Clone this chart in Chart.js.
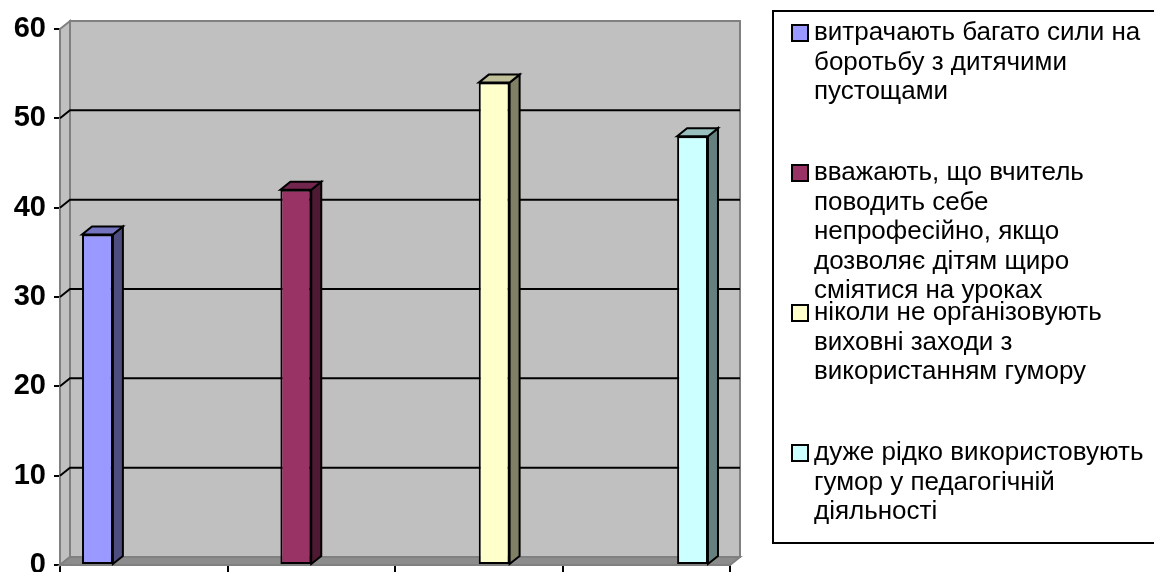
<!DOCTYPE html>
<html>
<head>
<meta charset="utf-8">
<script src="https://cdn.jsdelivr.net/npm/chart.js@4/dist/chart.umd.min.js"></script>
<style>
    body { margin: 0; background: #fff; }
    #wrap { width: 1154px; height: 572px; position: relative; }
</style>
</head>
<body>
<div id="wrap"><canvas id="chart"></canvas></div>
<script>
const categories = ['1', '2', '3', '4'];
const values = [37, 42, 54, 48];
const seriesNames = [
    ['витрачають багато сили на', 'боротьбу з дитячими', 'пустощами'],
    ['вважають, що вчитель', 'поводить себе', 'непрофесійно, якщо', 'дозволяє дітям щиро', 'сміятися на уроках'],
    ['ніколи не організовують', 'виховні заходи з', 'використанням гумору'],
    ['дуже рідко використовують', 'гумор у педагогічній', 'діяльності'],
];
const yTicks = [0, 10, 20, 30, 40, 50, 60];

const fronts = ['#9999FF', '#993366', '#FFFFCC', '#CCFFFF'];
const sides = ['#4D4D80', '#4D1933', '#808066', '#668080'];
const tops = ['#7373BF', '#73264D', '#BFBF99', '#99BFBF'];

const FONT = '"Liberation Sans", Arial, sans-serif';
const DX = 10, DY = -8;

function poly(ctx, pts, fill, stroke, lw) {
    ctx.beginPath();
    ctx.moveTo(pts[0][0], pts[0][1]);
    for (let i = 1; i < pts.length; i++) ctx.lineTo(pts[i][0], pts[i][1]);
    ctx.closePath();
    if (fill) { ctx.fillStyle = fill; ctx.fill(); }
    if (stroke) { ctx.strokeStyle = stroke; ctx.lineWidth = lw || 2; ctx.stroke(); }
}

// walls, floor and gridlines of the 3D box
const walls = {
    id: 'walls',
    beforeDatasetsDraw(chart) {
        const { ctx, chartArea: a } = chart;
        const y = chart.scales.y;
        ctx.save();
        poly(ctx, [[a.left + DX, a.top + DY], [a.right + DX, a.top + DY], [a.right + DX, a.bottom + DY], [a.left + DX, a.bottom + DY]], '#C0C0C0', '#808080', 2);
        poly(ctx, [[a.left, a.top], [a.left + DX, a.top + DY], [a.left + DX, a.bottom + DY], [a.left, a.bottom]], '#C0C0C0', '#808080', 2);
        poly(ctx, [[a.left, a.bottom], [a.right, a.bottom], [a.right + DX, a.bottom + DY], [a.left + DX, a.bottom + DY]], '#8C8C8C', '#808080', 2);
        ctx.strokeStyle = '#000';
        ctx.lineWidth = 2;
        yTicks.slice(1, -1).forEach(v => {
            const py = y.getPixelForValue(v);
            ctx.beginPath();
            ctx.moveTo(a.left, py);
            ctx.lineTo(a.left + DX, py + DY);
            ctx.lineTo(a.right + DX, py + DY);
            ctx.stroke();
        });
        ctx.restore();
    },
    afterDatasetsDraw(chart) {
        const { ctx } = chart;
        ctx.save();
        chart.data.datasets.forEach((ds, i) => {
            chart.getDatasetMeta(i).data.forEach((bar, j) => {
                if (ds.data[j] == null) return;
                const p = bar.getProps(['x', 'y', 'base', 'width'], true);
                const l = p.x - p.width / 2, r = p.x + p.width / 2;
                poly(ctx, [[r, p.y], [r + DX, p.y + DY], [r + DX, p.base + DY], [r, p.base]], sides[i], '#000', 2);
                poly(ctx, [[l, p.y], [l + DX, p.y + DY], [r + DX, p.y + DY], [r, p.y]], tops[i], '#000', 2);
            });
        });
        ctx.restore();
    },
};

// boxed legend on the right
const boxLegend = {
    id: 'boxLegend',
    afterDraw(chart) {
        const { ctx } = chart;
        ctx.save();
        ctx.strokeStyle = '#000';
        ctx.lineWidth = 2;
        ctx.strokeRect(773, 11, 420, 532);
        ctx.font = '26px ' + FONT;
        ctx.textBaseline = 'middle';
        chart.data.datasets.forEach((ds, i) => {
            const y0 = 33 + 140 * i;
            ctx.fillStyle = fronts[i];
            ctx.fillRect(792, y0 - 8, 16, 16);
            ctx.strokeRect(792, y0 - 8, 16, 16);
            ctx.fillStyle = '#000';
            seriesNames[i].forEach((line, k) => ctx.fillText(line, 814, y0 + k * 29.5));
        });
        ctx.restore();
    },
};

new Chart(document.getElementById('chart'), {
    type: 'bar',
    data: {
        labels: categories,
        datasets: values.map((v, i) => ({
            label: seriesNames[i].join(' '),
            data: values.map((_, j) => (j === i ? v : null)),
            backgroundColor: fronts[i],
            borderColor: '#000',
            borderWidth: 2,
            borderSkipped: false,
            categoryPercentage: 0.737,
            barPercentage: 1,
        })),
    },
    options: {
        responsive: true,
        maintainAspectRatio: false,
        animation: false,
        layout: { padding: { top: 29, right: 424, left: 0, bottom: 0 } },
        plugins: { legend: { display: false }, tooltip: { enabled: false } },
        scales: {
            x: {
                afterFit: s => { s.height = 7; s.paddingLeft = 0; s.paddingRight = 0; },
                grid: { drawOnChartArea: false, drawTicks: true, tickLength: 7, color: '#000', lineWidth: 2 },
                border: { display: true, color: '#000', width: 2 },
                ticks: { display: false },
            },
            y: {
                min: 0,
                max: 60,
                afterFit: s => { s.width = 60; s.paddingTop = 0; s.paddingBottom = 0; },
                afterBuildTicks: s => { s.ticks = yTicks.map(v => ({ value: v })); },
                grid: { drawOnChartArea: false, drawTicks: true, tickLength: 6, color: '#000', lineWidth: 2 },
                border: { display: true, color: '#000', width: 2 },
                ticks: { color: '#000', padding: 8, font: { family: FONT, size: 29, weight: 'bold' } },
            },
        },
    },
    plugins: [walls, boxLegend],
});
</script>
</body>
</html>
